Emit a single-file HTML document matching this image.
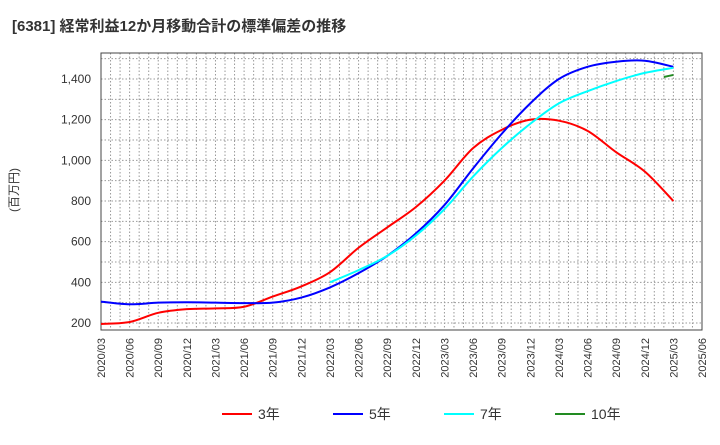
<!DOCTYPE html>
<html><head><meta charset="utf-8">
<style>
body{margin:0;background:#fff;font-family:"Liberation Sans","Noto Sans CJK JP",sans-serif;}
svg text{font-family:"Liberation Sans","Noto Sans CJK JP",sans-serif;}
</style></head>
<body>
<svg id="chart" width="720" height="440" xmlns="http://www.w3.org/2000/svg">
<text x="12" y="31" font-size="15" font-weight="bold" fill="#333">[6381]  経常利益12か月移動合計の標準偏差の推移</text>
<text transform="translate(18,190) rotate(-90)" font-size="12" fill="#333" text-anchor="middle">(百万円)</text>
<g id="grid"></g><g id="axes"></g><g id="series"></g><g id="legend"></g>
</svg>
<script>
const xLabels=["2020/03","2020/06","2020/09","2020/12","2021/03","2021/06","2021/09","2021/12","2022/03","2022/06","2022/09","2022/12","2023/03","2023/06","2023/09","2023/12","2024/03","2024/06","2024/09","2024/12","2025/03","2025/06"];
const yTicks=[200,400,600,800,1000,1200,1400];
const s3=[195,205,250,268,272,280,330,380,450,570,670,770,900,1060,1150,1200,1195,1145,1040,945,800];
const s5=[305,292,300,302,300,298,300,325,375,445,530,640,780,960,1130,1280,1400,1460,1485,1490,1460];
const s7=[400,460,530,630,760,920,1060,1180,1280,1340,1390,1430,1455];
const s7start=8;
const s10=[1410,1420];
const s10startMonth=59;
const L=101,R=702,T=53,B=330;
const NS="http://www.w3.org/2000/svg";
const xm=m=>L+(R-L)*m/63;
const y=v=>323-(v-200)*244/1200;
function mk(t,a,p){const e=document.createElementNS(NS,t);for(const k in a)e.setAttribute(k,a[k]);p.appendChild(e);return e;}
const grid=document.getElementById('grid'),axes=document.getElementById('axes'),ser=document.getElementById('series'),leg=document.getElementById('legend');
for(let m=1;m<63;m++){const l=mk('line',{x1:xm(m),x2:xm(m),y1:T,y2:B,stroke:'#999','stroke-dasharray':'1.5,2','stroke-width':1},grid);}
for(let v=200;v<=1500;v+=100){const l=mk('line',{x1:L,x2:R,y1:y(v),y2:y(v),stroke:'#999','stroke-dasharray':'1.5,2','stroke-width':1},grid);}
const fr=mk('rect',{x:L,y:T,width:R-L,height:B-T,fill:'none',stroke:'#444','stroke-width':1},axes);

yTicks.forEach(v=>{const t=mk('text',{x:L-10,y:y(v)+4,'font-size':12,fill:'#333','text-anchor':'end'},axes);t.textContent=v.toLocaleString('en-US');});
xLabels.forEach((s,i)=>{const x=xm(i*3);const t=mk('text',{transform:`translate(${x+4},${B+8}) rotate(-90)`,'font-size':11,fill:'#333','text-anchor':'end'},axes);t.textContent=s;});
function path(pts){let d=`M${pts[0][0]},${pts[0][1]}`;for(let i=0;i<pts.length-1;i++){const p0=pts[Math.max(0,i-1)],p1=pts[i],p2=pts[i+1],p3=pts[Math.min(pts.length-1,i+2)];const c1=[p1[0]+(p2[0]-p0[0])/6,p1[1]+(p2[1]-p0[1])/6],c2=[p2[0]-(p3[0]-p1[0])/6,p2[1]-(p3[1]-p1[1])/6];d+=`C${c1[0]},${c1[1]} ${c2[0]},${c2[1]} ${p2[0]},${p2[1]}`;}return d;}
function draw(vals,startMonth,step,color,name){const pts=vals.map((v,i)=>[xm(startMonth+i*step),y(v)]);const p=mk('path',{d:path(pts),fill:'none',stroke:color,'stroke-width':2},ser);}
draw(s3,0,3,'#ff0000','line-3y');
draw(s5,0,3,'#0000ff','line-5y');
draw(s7,s7start*3,3,'#00ffff','line-7y');
draw(s10,s10startMonth,1,'#228b22','line-10y');
[['3年','#ff0000',222],['5年','#0000ff',333],['7年','#00ffff',444],['10年','#228b22',555]].forEach(([n,c,x])=>{const g=mk('g',{},leg);mk('line',{x1:x,x2:x+30,y1:414,y2:414,stroke:c,'stroke-width':2},g);const t=mk('text',{x:x+36,y:419,'font-size':14,fill:'#333'},g);t.textContent=n;});
</script>
</body></html>
